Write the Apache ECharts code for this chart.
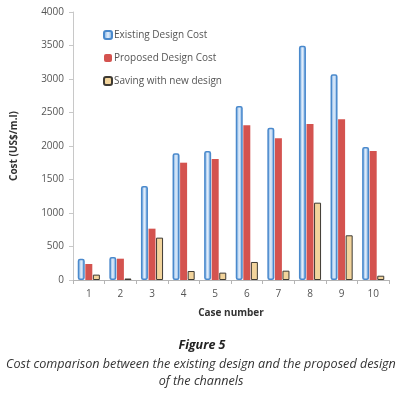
<!DOCTYPE html>
<html>
<head>
<meta charset="utf-8">
<script src="https://cdn.jsdelivr.net/npm/echarts@6/dist/echarts.min.js"></script>
<style>
  html, body { margin: 0; padding: 0; background: #fff; }
  #chart { width: 404px; height: 399px; }
</style>
</head>
<body>
<div id="chart"></div>
<script>
// case numbers on the x axis
const cases = ["1", "2", "3", "4", "5", "6", "7", "8", "9", "10"];
// cost per metre
const existingCost = [318, 343, 1403, 1891, 1925, 2597, 2273, 3497, 3070, 1985];
const proposedCost = [239, 318, 766, 1751, 1806, 2310, 2115, 2330, 2400, 1925];
const savingCost = [80, 22, 632, 134, 110, 269, 139, 1154, 667, 64];

const font = "Open Sans";

const chart = echarts.init(document.getElementById("chart"));

const blueFill = new echarts.graphic.LinearGradient(0, 0, 1, 0, [
  { offset: 0, color: "#5f9fdc" },
  { offset: 0.5, color: "#e4eefb" },
  { offset: 1, color: "#5f9fdc" },
]);

const option = {
  backgroundColor: "#fff",
  animation: false,
  textStyle: { fontFamily: font },
  graphic: [
    {
      type: "text",
      x: 202,
      y: 339,
      style: {
        text: "Figure 5",
        fontFamily: font,
        fontSize: 12.5,
        fontWeight: "bold",
        fontStyle: "italic",
        fill: "#222",
        align: "center",
      },
    },
    {
      type: "text",
      x: 201,
      y: 356,
      style: {
        text: "Cost comparison between the existing design and the proposed design\nof the channels",
        fontFamily: font,
        fontSize: 12.6,
        fontStyle: "italic",
        fill: "#333",
        lineHeight: 17,
        align: "center",
      },
    },
  ],
  legend: {
    orient: "vertical",
    left: 98,
    top: 25,
    itemWidth: 8,
    itemHeight: 8,
    itemGap: 13,
    textStyle: { fontFamily: font, fontSize: 10, color: "#555", padding: [0, 0, 0, -3] },
    data: ["Existing Design Cost", "Proposed Design Cost", "Saving with new design"],
  },
  grid: { left: 73, right: 15, top: 12, bottom: 119 },
  xAxis: {
    type: "category",
    data: cases,
    name: "Case number",
    nameLocation: "middle",
    nameGap: 28,
    nameTextStyle: { fontFamily: font, fontSize: 10, fontWeight: "bold", color: "#333" },
    axisLine: { lineStyle: { color: "#b5b5b5" } },
    axisTick: { show: true, lineStyle: { color: "#b5b5b5" }, length: 4 },
    axisLabel: { fontFamily: font, fontSize: 10, color: "#555", margin: 9 },
  },
  yAxis: {
    type: "value",
    min: 0,
    max: 4000,
    interval: 500,
    name: "Cost (US$/m.l)",
    nameLocation: "middle",
    nameGap: 54,
    nameTextStyle: { fontFamily: font, fontSize: 10, fontWeight: "bold", color: "#333" },
    axisLine: { show: true, lineStyle: { color: "#c8c8c8" } },
    axisTick: { show: true, lineStyle: { color: "#c8c8c8" }, length: 4 },
    axisLabel: {
      fontFamily: font,
      fontSize: 10,
      color: "#555",
      margin: 9,
      formatter: (v) => String(v),
    },
    splitLine: { show: false },
  },
  series: [
    {
      name: "Existing Design Cost",
      type: "bar",
      data: existingCost,
      barWidth: 7,
      barGap: "8%",
      itemStyle: {
        color: blueFill,
        borderColor: "#4a89cc",
        borderWidth: 1.5,
        borderRadius: 1.5,
      },
    },
    {
      name: "Proposed Design Cost",
      type: "bar",
      data: proposedCost,
      barWidth: 7,
      itemStyle: { color: "#d4534f" },
    },
    {
      name: "Saving with new design",
      type: "bar",
      data: savingCost,
      barWidth: 7,
      itemStyle: { color: "#f2d49c", borderColor: "#3e3a33", borderWidth: 1 },
    },
  ],
};

chart.setOption(option);
</script>
</body>
</html>
